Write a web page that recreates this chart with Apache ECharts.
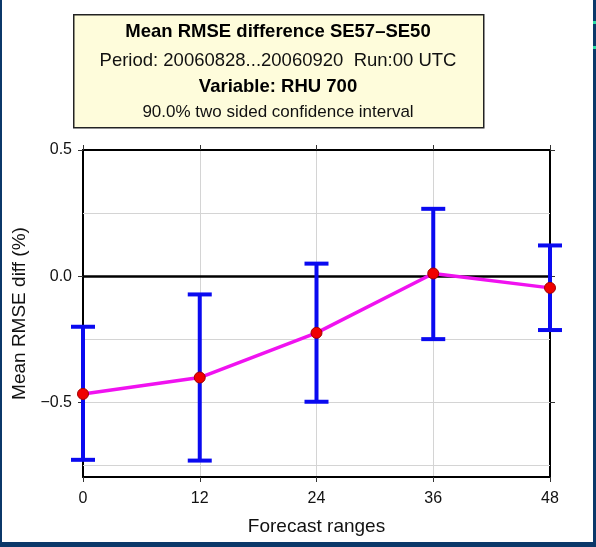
<!DOCTYPE html>
<html>
<head>
<meta charset="utf-8">
<script src="https://cdn.jsdelivr.net/npm/echarts@6/dist/echarts.min.js"></script>
<style>
  html, body { margin: 0; padding: 0; background: #fff; }
  #chart { width: 596px; height: 547px; }
</style>
</head>
<body>
<div id="chart"></div>
<script>
// forecast ranges (hours) and the mean RMSE difference with its 90% interval
const forecastRanges = [0, 12, 24, 36, 48];
const meanDiff = [-0.466, -0.401, -0.224, 0.011, -0.046];
const ciLower = [-0.727, -0.730, -0.497, -0.249, -0.213];
const ciUpper = [-0.200, -0.072, 0.050, 0.267, 0.122];
const yTickValues = [-0.5, 0, 0.5];
const yGridValues = [-0.75, -0.5, -0.25, 0.25];
const titleLines = [
  "Mean RMSE difference SE57\u2013SE50",
  "Period: 20060828...20060920  Run:00 UTC",
  "Variable: RHU 700",
  "90.0% two sided confidence interval"
];

const FONT = "Liberation Sans, Arial, Helvetica, sans-serif";
const chart = echarts.init(document.getElementById("chart"));

const fmtY = v => v.toFixed(1).replace("-", "\u2212");

const option = {
  backgroundColor: "#fff",
  animation: false,
  textStyle: { fontFamily: FONT },
  grid: { left: 83, right: 46, top: 150, bottom: 70 },
  xAxis: [
    {
      type: "value",
      min: 0,
      max: 48,
      interval: 12,
      name: "Forecast ranges",
      nameLocation: "middle",
      nameGap: 40,
      nameTextStyle: { color: "#111", fontSize: 19, fontFamily: FONT },
      axisLine: { show: true, onZero: false, lineStyle: { color: "#000", width: 2 } },
      axisTick: { show: true, inside: false, length: 5, lineStyle: { color: "#333", width: 1 } },
      axisLabel: { color: "#111", fontSize: 16, margin: 14, fontFamily: FONT },
      splitLine: { show: true, lineStyle: { color: "#d4d4d4", width: 1 } }
    },
    {
      type: "value",
      position: "top",
      min: 0,
      max: 48,
      interval: 12,
      axisLine: { show: true, onZero: false, lineStyle: { color: "#000", width: 2 } },
      axisTick: { show: true, length: 5, lineStyle: { color: "#333", width: 1 } },
      axisLabel: { show: false },
      splitLine: { show: false }
    }
  ],
  yAxis: [
    {
      type: "value",
      min: -0.795,
      max: 0.5,
      name: "Mean RMSE diff (%)",
      nameLocation: "middle",
      nameRotate: 90,
      nameGap: 53,
      nameTextStyle: { color: "#111", fontSize: 19, fontFamily: FONT },
      axisLine: { show: true, onZero: false, lineStyle: { color: "#000", width: 2 } },
      axisTick: { show: true, length: 5, customValues: yTickValues, lineStyle: { color: "#333", width: 1 } },
      axisLabel: { color: "#111", fontSize: 16, margin: 11, customValues: yTickValues, formatter: fmtY, fontFamily: FONT },
      splitLine: { show: false }
    },
    {
      type: "value",
      position: "right",
      min: -0.795,
      max: 0.5,
      axisLine: { show: true, onZero: false, lineStyle: { color: "#000", width: 2 } },
      axisTick: { show: true, length: 5, customValues: yTickValues, lineStyle: { color: "#333", width: 1 } },
      axisLabel: { show: false },
      splitLine: { show: false }
    }
  ],
  graphic: [
    // dark frame around the picture
    { type: "rect", left: 0, top: 0, shape: { width: 2, height: 547 }, style: { fill: "#0b3869" }, z: 100 },
    { type: "rect", left: 593, top: 0, shape: { width: 3, height: 547 }, style: { fill: "#0b3869" }, z: 100 },
    { type: "rect", left: 0, top: 542, shape: { width: 596, height: 5 }, style: { fill: "#0b3869" }, z: 100 },
    { type: "rect", left: 593, top: 21, shape: { width: 3, height: 3 }, style: { fill: "#2ee0a8" }, z: 101 },
    { type: "rect", left: 593, top: 46, shape: { width: 3, height: 3 }, style: { fill: "#2ee0a8" }, z: 101 },
    // title box
    {
      type: "rect",
      left: 73,
      top: 14,
      shape: { width: 410, height: 113 },
      style: { fill: "#fefcdb", stroke: "#222", lineWidth: 1.5 },
      z: 50
    },
    {
      type: "text", x: 278, y: 32, z: 51,
      style: { text: titleLines[0], fill: "#000", font: "bold 18.5px " + FONT, align: "center", verticalAlign: "middle" }
    },
    {
      type: "text", x: 278, y: 61, z: 51,
      style: { text: titleLines[1], fill: "#111", font: "18.5px " + FONT, align: "center", verticalAlign: "middle" }
    },
    {
      type: "text", x: 278, y: 87, z: 51,
      style: { text: titleLines[2], fill: "#000", font: "bold 18.5px " + FONT, align: "center", verticalAlign: "middle" }
    },
    {
      type: "text", x: 278, y: 112, z: 51,
      style: { text: titleLines[3], fill: "#111", font: "17px " + FONT, align: "center", verticalAlign: "middle" }
    }
  ],
  series: [
    {
      // horizontal grid lines and the zero line
      type: "line",
      data: [],
      silent: true,
      markLine: {
        symbol: "none",
        silent: true,
        z: 1,
        label: { show: false },
        data: yGridValues
          .map(v => ({ yAxis: v, lineStyle: { color: "#d4d4d4", width: 1, type: "solid" } }))
          .concat([{ yAxis: 0, lineStyle: { color: "#000", width: 2.5, type: "solid" } }])
      },
      z: 1
    },
    {
      type: "custom",
      name: "ci",
      data: forecastRanges.map((x, i) => [x, ciLower[i], ciUpper[i]]),
      encode: { x: 0, y: [1, 2] },
      clip: false,
      z: 5,
      renderItem: (params, api) => {
        const x = api.value(0);
        const lo = api.coord([x, api.value(1)]);
        const hi = api.coord([x, api.value(2)]);
        const half = 12;
        const style = { stroke: "#0a0af0", lineWidth: 4 };
        return {
          type: "group",
          children: [
            { type: "line", shape: { x1: lo[0], y1: lo[1], x2: hi[0], y2: hi[1] }, style },
            { type: "line", shape: { x1: lo[0] - half, y1: lo[1], x2: lo[0] + half, y2: lo[1] }, style },
            { type: "line", shape: { x1: hi[0] - half, y1: hi[1], x2: hi[0] + half, y2: hi[1] }, style }
          ]
        };
      }
    },
    {
      type: "line",
      name: "mean",
      data: forecastRanges.map((x, i) => [x, meanDiff[i]]),
      symbol: "circle",
      symbolSize: 11,
      showSymbol: true,
      clip: false,
      lineStyle: { color: "#f012f0", width: 3.5 },
      itemStyle: { color: "#f00000", borderColor: "#a00000", borderWidth: 1 },
      z: 6
    }
  ]
};

chart.setOption(option);
</script>
</body>
</html>
